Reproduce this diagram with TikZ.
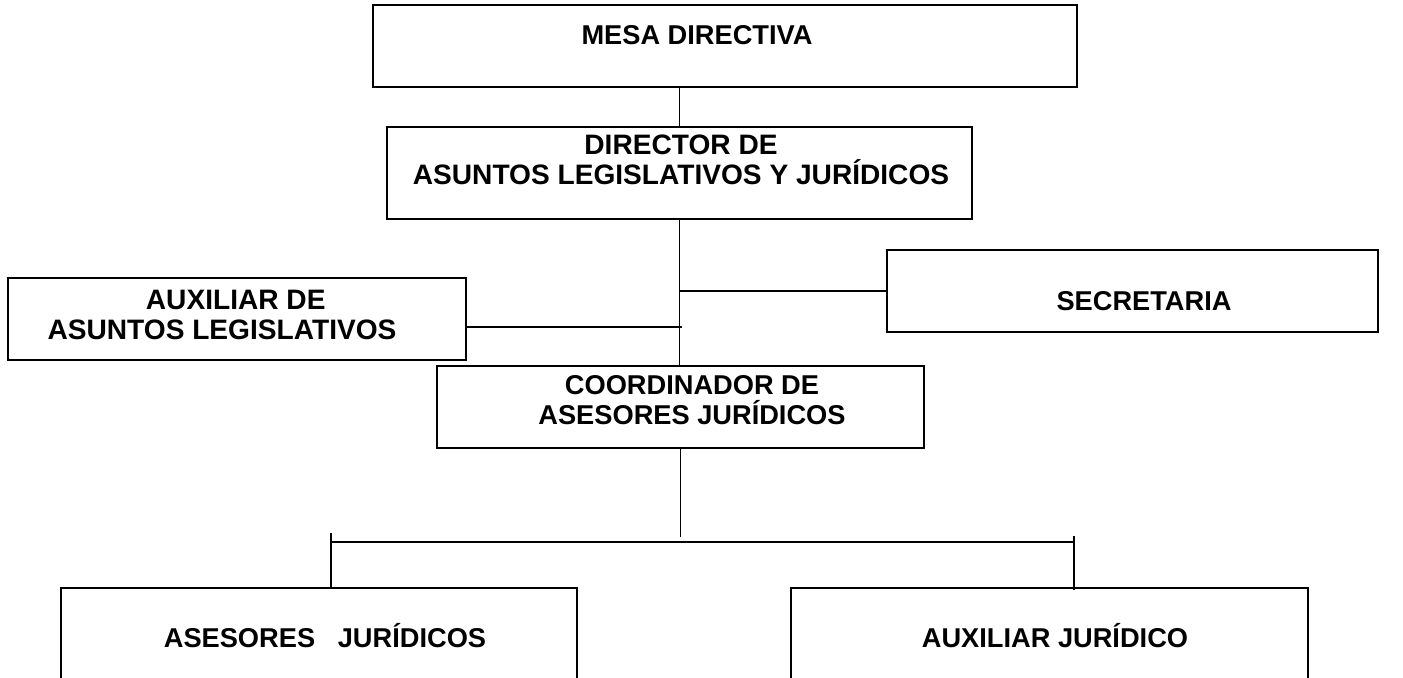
\documentclass[tikz,border=0pt]{standalone}
\usepackage{fontspec}
\setmainfont{Liberation Sans}
\usetikzlibrary{positioning}

\begin{document}
\begin{tikzpicture}[x=0.02cm, y=-0.02cm,
    box/.style={draw, line width=1.4pt, inner sep=0pt},
    txt/.style={align=center, inner sep=0pt, font=\fontsize{15.5}{17}\selectfont\bfseries},
    link/.style={line width=1.1pt}]
      \useasboundingbox (0,0) rectangle (1403,677);
      \clip (0,0) rectangle (1403,677);

      % Define the boxes
      \node[box, minimum width=14.08cm, minimum height=1.64cm] (mesa) at (725,46) {};
      \node[box, minimum width=11.7cm, minimum height=1.84cm] (director) at (679.5,173) {};
      \node[box, minimum width=9.16cm, minimum height=1.64cm] (auxleg) at (237,319) {};
      \node[box, minimum width=9.82cm, minimum height=1.64cm] (secre) at (1132.5,291) {};
      \node[box, minimum width=9.74cm, minimum height=1.64cm] (coord) at (680.5,407) {};
      \node[box, minimum width=10.32cm, minimum height=2cm] (asesores) at (319,638) {};
      \node[box, minimum width=10.34cm, minimum height=2cm] (auxjur) at (1049.5,638) {};

      % Draw the labels
      \node[txt] (mesaT) at (697,35) {MESA DIRECTIVA};
      \node[txt, font=\fontsize{16}{17}\selectfont\bfseries] (directorT) at (681,160) {DIRECTOR DE\\ASUNTOS LEGISLATIVOS Y JURÍDICOS};
      \node[txt, font=\fontsize{16}{17}\selectfont\bfseries] (auxlegT) at (222,315) {\hspace*{0.55cm}AUXILIAR DE\\ASUNTOS LEGISLATIVOS};
      \node[txt] (secreT) at (1144,301) {SECRETARIA};
      \node[txt] (coordT) at (692,400) {COORDINADOR DE\\ASESORES JURÍDICOS};
      \node[txt] (asesoresT) at (325,636) {ASESORES\ \ \ JURÍDICOS};
      \node[txt] (auxjurT) at (1055,636) {AUXILIAR JURÍDICO};

      % Define the junctions
      \coordinate (auxend) at (682,327);
      \coordinate (busL) at (331,542);
      \coordinate (busR) at (1074,542);
      \coordinate (tickL) at (331,533);
      \coordinate (tickR) at (1074,536);

      % Draw the connectors
      \draw[link] (director.north |- mesa.south) -- (director.north);
      \draw[link] (director.south) -- (director.south |- coord.north);
      \draw[link] (director.south |- secre.west) -- (secre.west);
      \draw[link] (auxend -| auxleg.east) -- (auxend);
      \draw[link] (coord.south) -- ++(0,88);
      \draw[link] (busL) -- (busR);
      \draw[link] (tickL) -- (tickL |- asesores.north);
      \draw[link] (tickR) -- ([yshift=-2pt]tickR |- auxjur.north);
\end{tikzpicture}
\end{document}
